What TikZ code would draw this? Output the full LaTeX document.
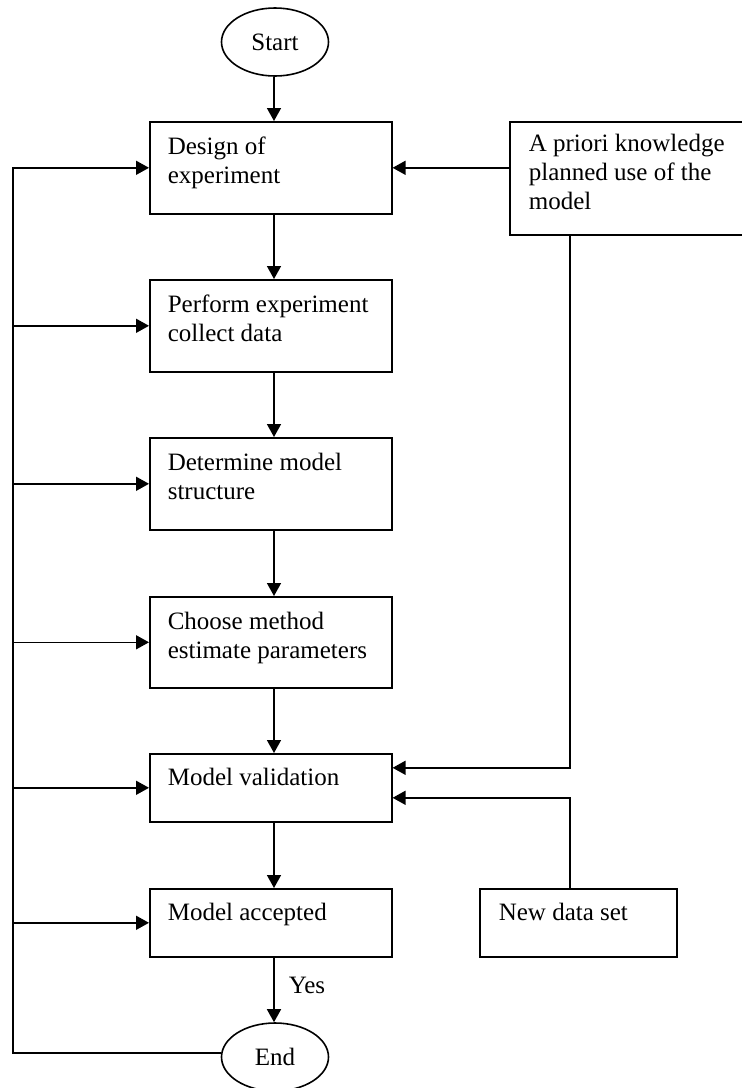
\documentclass[tikz,border=0pt]{standalone}
\usepackage{fontspec}
\setmainfont{Liberation Serif}
\usetikzlibrary{arrows.meta,calc,shapes.geometric}
\newcommand{\flowfont}{\fontsize{25}{29}\selectfont}

\begin{document}
\begin{tikzpicture}[x=1pt,y=1pt,line width=1.6pt,
  box/.style={draw,rectangle,anchor=north west,minimum width=242pt,inner sep=0pt},
  oval/.style={draw,ellipse,minimum width=107pt,minimum height=68pt,inner sep=0pt,font=\flowfont},
  txt/.style={anchor=base west,align=left,inner sep=0pt,font=\flowfont},
  arr/.style={-{Triangle[length=13pt,width=14pt]}}]
\useasboundingbox (0,0) rectangle (742,-1088);
\coordinate (mid) at (274,0);
\coordinate (lx) at (13,0);
\coordinate (rx) at (570,0);

\node[oval] (start) at (275,-42) {Start};
\node[box,minimum height=92pt] (design) at (149,-121) {};
\node[box,minimum height=92pt] (perform) at (149,-279) {};
\node[box,minimum height=92pt] (structure) at (149,-437) {};
\node[box,minimum height=91pt] (method) at (149,-596) {};
\node[box,minimum height=68pt] (validation) at (149,-753) {};
\node[box,minimum height=68pt] (accepted) at (149,-888) {};
\node[oval] (finish) at (275,-1057) {End};
\node[box,minimum width=245pt,minimum height=113pt] (prior) at (509,-121) {};
\node[box,minimum width=197pt,minimum height=68pt] (newdata) at (479,-888) {};

% texts inside the boxes (base = last line)
\node[txt] (designtxt) at ($(design.north west)+(18,-62)$) {Design of\\experiment};
\node[txt] (performtxt) at ($(perform.north west)+(18,-62)$) {Perform experiment\\collect data};
\node[txt] (structuretxt) at ($(structure.north west)+(18,-62)$) {Determine model\\structure};
\node[txt] (methodtxt) at ($(method.north west)+(18,-62)$) {Choose method\\estimate parameters};
\node[txt] (validationtxt) at ($(validation.north west)+(18,-32)$) {Model validation};
\node[txt] (acceptedtxt) at ($(accepted.north west)+(18,-32)$) {Model accepted};
\node[txt] (priortxt) at ($(prior.north west)+(19,-88)$) {A priori knowledge\\planned use of the\\model};
\node[txt] (newdatatxt) at ($(newdata.north west)+(19,-32)$) {New data set};
\node[txt] (yes) at (288,-993) {Yes};

\foreach \a/\b in {design/perform,perform/structure,structure/method,method/validation,validation/accepted,accepted/finish}
  \draw[arr] (\a.south -| mid) -- (\b.north -| mid);
\draw[arr] (start.south -| mid) -- (design.north -| mid);

% feedback loop on the left
\draw[arr] ([yshift=4pt]finish.west) -| (lx |- design.west) -- (design.west);
\foreach \b in {perform,structure,method,validation,accepted}
  \draw[arr] (lx |- \b.west) -- (\b.west);

% inputs on the right
\draw[arr] (prior.west |- design.east) -- (design.east);
\draw[arr] (prior.south -| rx) |- ([yshift=20pt]validation.east);
\draw[arr] (newdata.north -| rx) |- ([yshift=-10pt]validation.east);
\end{tikzpicture}
\end{document}
